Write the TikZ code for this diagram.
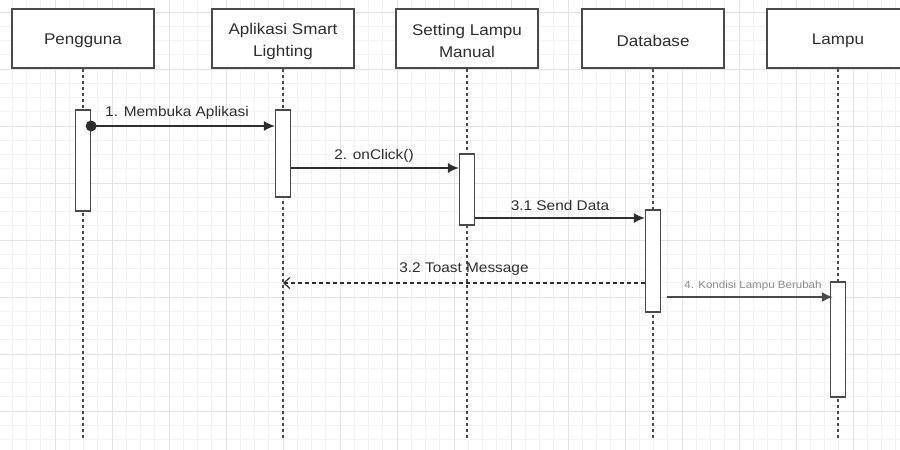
\documentclass[tikz,border=0pt]{standalone}
\usepackage{fontspec}
\setmainfont{Liberation Sans}[FakeStretch=1.1]
\usetikzlibrary{arrows.meta}
\definecolor{ink}{HTML}{2E2E2E}
\definecolor{edge}{HTML}{4A4A4A}
\definecolor{gridmajor}{HTML}{E3E3E3}
\definecolor{gridminor}{HTML}{F3F3F3}
\definecolor{faint}{HTML}{8A8A8A}
\begin{document}
\begin{tikzpicture}[x=1pt,y=-1pt,
  head/.style={draw=edge, line width=1.5pt, fill=white, minimum width=142pt,
    minimum height=59pt, inner sep=0pt, align=center, text=ink,
    font=\fontsize{15.5}{22}\selectfont},
  headtext/.style={inner sep=0pt, align=center, text=ink,
    font=\fontsize{15.5}{22}\selectfont},
  act/.style={draw=edge, line width=1.3pt, fill=white, minimum width=15pt, inner sep=0pt},
  lifeline/.style={draw=edge, line width=1.4pt, dash pattern=on 3pt off 3pt},
  msg/.style={draw=ink, line width=1.4pt, -{Latex[length=11pt,width=10pt]}},
  reply/.style={draw=ink, line width=1.2pt, dash pattern=on 4pt off 3pt,
    -{Straight Barb[length=6pt,width=11pt]}},
  lbl/.style={text=ink, font=\fontsize{14}{16}\selectfont, inner sep=0pt},
  smalllbl/.style={text=faint, font=\fontsize{10.5}{12}\selectfont, inner sep=0pt},
  startdot/.style={circle, fill=ink, minimum size=11pt, inner sep=0pt},
]
\useasboundingbox (0,0) rectangle (900,450);
\clip (0,0) rectangle (900,450);
\fill[white] (0,0) rectangle (900,450);

% background grid: minor lines, then major lines
\foreach \i in {0,...,63}
  \draw[gridminor, line width=0.6pt] ({-2+14.25*\i},0) -- ++(0,450);
\foreach \i in {-1,...,31}
  \draw[gridminor, line width=0.6pt] (0,{12+14.25*\i}) -- ++(900,0);
\foreach \i in {0,...,16}
  \draw[gridmajor, line width=1pt] ({-2+57*\i},0) -- ++(0,450);
\foreach \i in {-1,...,8}
  \draw[gridmajor, line width=1pt] (0,{12+57*\i}) -- ++(900,0);

% participants (boxes, with their titles set slightly low)
\node[head] (hP) at (83,38.5)  {};
\node[head] (hA) at (283,38.5) {};
\node[head] (hS) at (467,38.5) {};
\node[head] (hD) at (653,38.5) {};
\node[head] (hL) at (838,38.5) {};
\node[headtext] (tP) at ([yshift=-2.5pt]hP.center) {Pengguna};
\node[headtext] (tA) at ([yshift=-2.5pt]hA.center) {Aplikasi Smart\\Lighting};
\node[headtext] (tS) at ([yshift=-2.5pt]hS.center) {Setting Lampu\\Manual};
\node[headtext] (tD) at ([yshift=-2.5pt]hD.center) {Database};
\node[headtext] (tL) at ([yshift=-2.5pt]hL.center) {Lampu};

% lifelines
\coordinate (bottom) at (0,440);
\foreach \h in {hP,hA,hS,hD,hL}
  \draw[lifeline] (\h.south) -- (\h.south |- bottom);

% activation bars
\node[act, minimum height=101pt] (aP) at (83,160.5)  {};
\node[act, minimum height=87pt]  (aA) at (283,153.5) {};
\node[act, minimum height=71pt]  (aS) at (467,189.5) {};
\node[act, minimum height=102pt] (aD) at (653,261)   {};
\node[act, minimum height=115pt] (aL) at (838,339.5) {};

% message levels
\coordinate (m1) at (0,126);
\coordinate (m2) at (0,168);
\coordinate (m3) at (0,218);
\coordinate (m4) at (0,283);
\coordinate (m5) at (0,297);

% messages
\node[startdot] (dot) at (aP.east |- m1) {};
\draw[msg] (dot.center) -- (aA.west |- m1);
\draw[msg] (aA.east |- m2) -- (aS.west |- m2);
\draw[msg] (aS.east |- m3) -- (aD.west |- m3);
\draw[reply] (aD.west |- m4) -- (hA.south |- m4);
\draw[msg, draw=edge, line width=1.8pt, shorten <=6pt, shorten >=-3pt] (aD.east |- m5) -- (aL.west |- m5);

% message labels
\node[lbl] (l1) at (177,113) {1. Membuka Aplikasi};
\node[lbl] (l2) at (374,156) {2. onClick()};
\node[lbl] (l3) at (560,205) {3.1 Send Data};
\node[lbl] (l4) at (464,269) {3.2 Toast Message};
\node[smalllbl] (l5) at (753,286) {4. Kondisi Lampu Berubah};
\end{tikzpicture}
\end{document}
